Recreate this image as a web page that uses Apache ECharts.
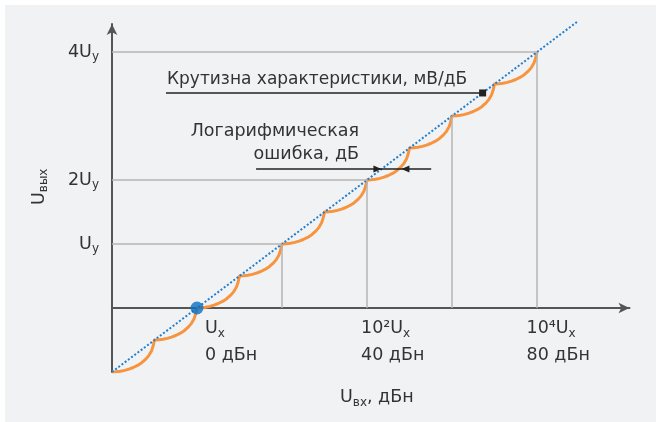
<!DOCTYPE html>
<html><head><meta charset="utf-8">
<script src="https://cdn.jsdelivr.net/npm/echarts@6/dist/echarts.min.js"></script>
<style>html,body{margin:0;padding:0;background:#fff;} #c{width:656px;height:422px;}</style>
</head><body><div id="c"></div>
<script>
// ---------- data ----------
const levelValues = [1, 2, 4];
const levelLabels = ['U{sub|y}', '2U{sub|y}', '4U{sub|y}'];
const xTickValues = [0, 40, 80];
const xTickTop = ['U{sub|x}', '10²U{sub|x}', '10⁴U{sub|x}'];
const xTickBottom = ['0 дБн', '40 дБн', '80 дБн'];
const yAxisTitle = 'U{sub|вых}';
const xAxisTitle = 'U{sub|вх}, дБн';
const slopeText = 'Крутизна характеристики, мВ/дБ';
const errText1 = 'Логарифмическая';
const errText2 = 'ошибка, дБ';

// ideal logarithmic characteristic (dotted)
const idealX = [-20, 89.6];
const idealY = [-1, 4.48];

// real piecewise characteristic (orange), 10 scallops of 10 dB each
const curveX = [
  -20, -19, -18, -17, -16, -15, -14, -13, -12, -11.3, -10.7, -10.3,
  -10, -9, -8, -7, -6, -5, -4, -3, -2, -1.3, -0.7, -0.3,
  0, 1, 2, 3, 4, 5, 6, 7, 8, 8.7, 9.3, 9.7,
  10, 11, 12, 13, 14, 15, 16, 17, 18, 18.7, 19.3, 19.7,
  20, 21, 22, 23, 24, 25, 26, 27, 28, 28.7, 29.3, 29.7,
  30, 31, 32, 33, 34, 35, 36, 37, 38, 38.7, 39.3, 39.7,
  40, 41, 42, 43, 44, 45, 46, 47, 48, 48.7, 49.3, 49.7,
  50, 51, 52, 53, 54, 55, 56, 57, 58, 58.7, 59.3, 59.7,
  60, 61, 62, 63, 64, 65, 66, 67, 68, 68.7, 69.3, 69.7,
  70, 71, 72, 73, 74, 75, 76, 77, 78, 78.7, 79.3, 79.7,
  80
];
const curveY = [
  -1, -0.997, -0.989, -0.975, -0.955, -0.93, -0.897, -0.855, -0.795, -0.74, -0.67, -0.59,
  -0.5, -0.497, -0.489, -0.475, -0.455, -0.43, -0.397, -0.355, -0.295, -0.24, -0.17, -0.09,
  0, 0.003, 0.011, 0.025, 0.045, 0.07, 0.103, 0.145, 0.205, 0.26, 0.33, 0.41,
  0.5, 0.503, 0.511, 0.525, 0.545, 0.57, 0.603, 0.645, 0.705, 0.76, 0.83, 0.91,
  1, 1.003, 1.011, 1.025, 1.045, 1.07, 1.103, 1.145, 1.205, 1.26, 1.33, 1.41,
  1.5, 1.503, 1.511, 1.525, 1.545, 1.57, 1.603, 1.645, 1.705, 1.76, 1.83, 1.91,
  2, 2.003, 2.011, 2.025, 2.045, 2.07, 2.103, 2.145, 2.205, 2.26, 2.33, 2.41,
  2.5, 2.503, 2.511, 2.525, 2.545, 2.57, 2.603, 2.645, 2.705, 2.76, 2.83, 2.91,
  3, 3.003, 3.011, 3.025, 3.045, 3.07, 3.103, 3.145, 3.205, 3.26, 3.33, 3.41,
  3.5, 3.503, 3.511, 3.525, 3.545, 3.57, 3.603, 3.645, 3.705, 3.76, 3.83, 3.91,
  4
];

// guide lines
const hGuideY = [1, 2, 4];
const hGuideEndX = [20, 40, 80];
const vGuideX = [20, 40, 60, 80];
const vGuideTopY = [1, 2, 3, 4];

const refPoint = [0, 0];

// annotations (data coordinates)
const slopeLineX = [-7.3, 67.2];
const slopeLineY = 3.36;
const errLineX = [13.9, 55.1];
const errLineY = 2.17;
const errTipX = [43.4, 48.1];

// ---------- chart ----------
const FONT = '"DejaVu Sans", "Noto Sans", sans-serif';
const TXT = '#333333';
const FS = 17.5;
const subStyle = {fontSize: 12, fontFamily: FONT, color: TXT, lineHeight: 12, padding: [10, 0, 0, 0], verticalAlign: 'middle'};
const pairs = (xs, ys) => xs.map((x, i) => [x, ys[i]]);

const chart = echarts.init(document.getElementById('c'), null, {renderer: 'canvas'});

const axisLineStyle = {color: '#555555', width: 2};

const option = {
  animation: false,
  grid: {left: 112, right: 26.5, top: 24, bottom: 50},
  xAxis: {
    type: 'value', min: -20, max: 101.76,
    axisLine: {show: true, onZero: true, symbol: ['none', 'arrow'], symbolSize: [8, 11], lineStyle: axisLineStyle},
    axisTick: {show: false}, axisLabel: {show: false}, splitLine: {show: false}
  },
  yAxis: {
    type: 'value', min: -1, max: 4.4375, interval: 1,
    axisLine: {show: true, onZero: false, symbol: ['none', 'arrow'], symbolSize: [8, 11], lineStyle: axisLineStyle},
    axisTick: {show: false}, splitLine: {show: false},
    axisLabel: {
      margin: 13, fontSize: FS, fontFamily: FONT, color: TXT, lineHeight: 17,
      formatter: v => { const i = levelValues.indexOf(Math.round(v * 1000) / 1000); return i >= 0 ? levelLabels[i] : ''; },
      rich: {sub: subStyle}
    }
  },
  series: [
    {
      type: 'line', data: [], silent: true, z: 1,
      markLine: {
        silent: true, symbol: ['none', 'none'], label: {show: false}, emphasis: {disabled: true},
        lineStyle: {color: '#b5b5b5', width: 1.5, type: 'solid'},
        data: [
          ...hGuideY.map((y, i) => [{coord: [-20, y]}, {coord: [hGuideEndX[i], y]}]),
          ...vGuideX.map((x, i) => [{coord: [x, 0]}, {coord: [x, vGuideTopY[i]]}])
        ]
      }
    },
    {
      type: 'line', data: pairs(curveX, curveY), symbol: 'none', silent: true, z: 3,
      lineStyle: {color: '#f7943f', width: 3, join: 'round'}
    },
    {
      type: 'line', data: pairs(idealX, idealY), symbol: 'none', silent: true, clip: false, z: 4,
      lineStyle: {color: '#1f7fd0', width: 2, type: [2, 2]}
    },
    {
      type: 'line', data: [], silent: true, z: 5,
      markLine: {
        silent: true, symbol: ['none', 'none'], label: {show: false}, emphasis: {disabled: true},
        lineStyle: {color: '#222222', width: 1.5, type: 'solid'},
        data: [
          [{coord: [slopeLineX[0], slopeLineY]}, {coord: [slopeLineX[1], slopeLineY]}],
          [{coord: [errLineX[0], errLineY]}, {coord: [errLineX[1], errLineY]}]
        ]
      },
      markPoint: {
        silent: true, label: {show: false}, itemStyle: {color: '#222222'},
        data: [
          {coord: [slopeLineX[1], slopeLineY], symbol: 'rect', symbolSize: 7},
          {coord: [errTipX[0], errLineY], symbol: 'triangle', symbolSize: [7, 8], symbolRotate: -90, symbolOffset: [-4, 0]},
          {coord: [errTipX[1], errLineY], symbol: 'triangle', symbolSize: [7, 8], symbolRotate: 90, symbolOffset: [4, 0]}
        ]
      }
    },
    {
      type: 'scatter', data: [refPoint], symbolSize: 13, silent: true, z: 6,
      itemStyle: {color: '#0a6fc0'}
    }
  ]
};
chart.setOption(option);

// ---------- text ----------
const txt = (text, x, y, align, extra) => Object.assign({
  type: 'text', x: x, y: y, silent: true, z: 20,
  style: {text: text, x: 0, y: 0, fill: TXT, fontSize: FS, fontFamily: FONT, textAlign: align || 'left', textVerticalAlign: 'middle', rich: {sub: subStyle}}
}, extra || {});

const xLabelLeft = [205, 361, 526.5];
const graphics = [
  {type: 'rect', shape: {x: 5, y: 5, width: 651, height: 417}, style: {fill: '#f1f2f4'}, z: -100, silent: true}
];
xTickValues.forEach((v, i) => {
  graphics.push(txt(xTickTop[i], xLabelLeft[i], 328.5));
  graphics.push(txt(xTickBottom[i], xLabelLeft[i], 355));
});
graphics.push(txt(xAxisTitle, 340, 397.5));
graphics.push(txt(yAxisTitle, 39, 205, 'left', {rotation: Math.PI / 2}));
graphics.push(txt(slopeText, 167, 80, 'left', {style: {text: slopeText, x: 0, y: 0, fill: TXT, fontSize: 17, fontFamily: FONT, textAlign: 'left', textVerticalAlign: 'middle'}}));
graphics.push(txt(errText1, 359, 131.7, 'right'));
graphics.push(txt(errText2, 359, 154.3, 'right'));

chart.setOption({graphic: graphics});
</script>
</body></html>
